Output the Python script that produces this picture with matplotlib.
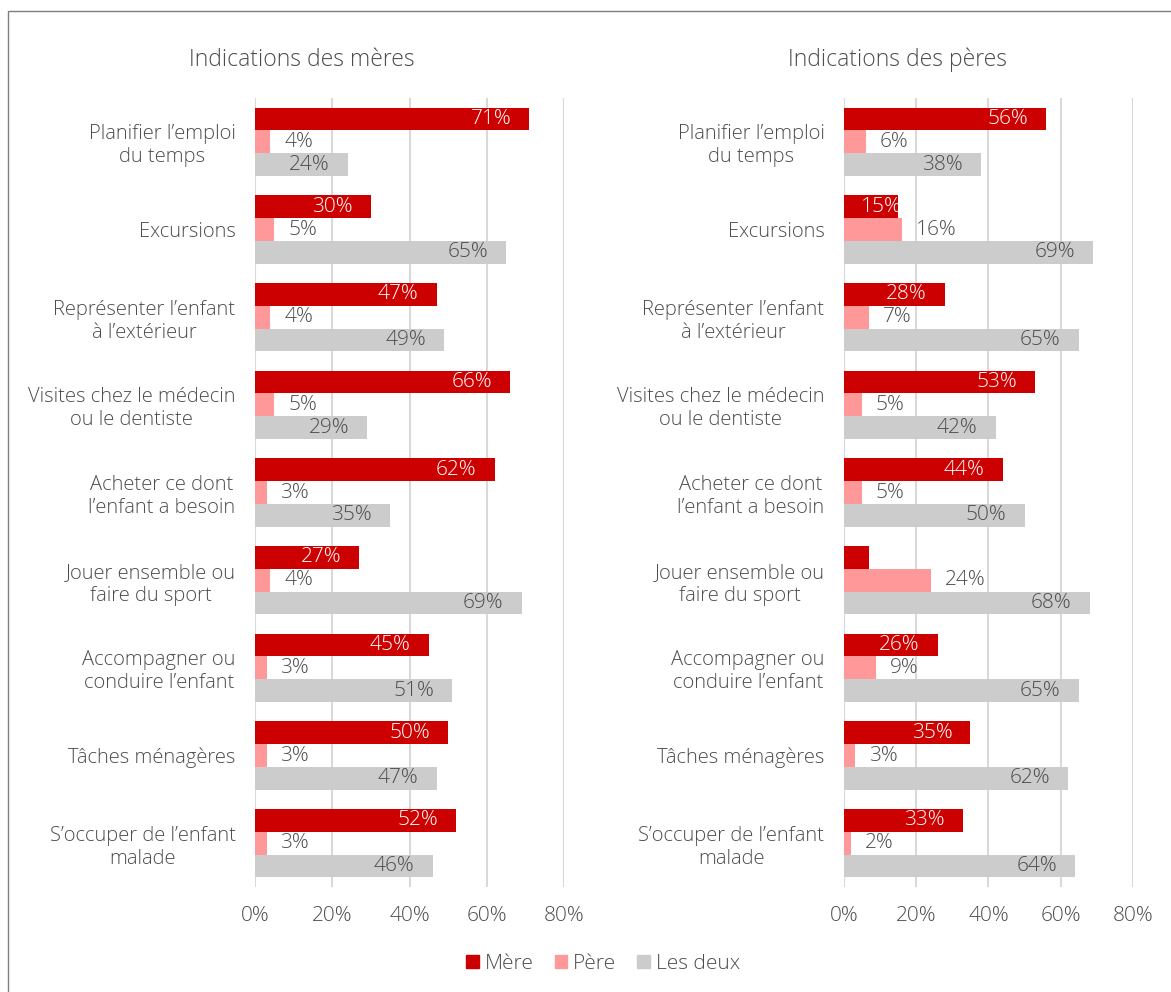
import numpy as np
import matplotlib.pyplot as plt
from matplotlib.patches import Rectangle, Patch

plt.rcParams['font.family'] = ['Open Sans', 'DejaVu Sans']
plt.rcParams['font.weight'] = 'light'

categories = [
    "Planifier l’emploi\ndu temps",
    "Excursions",
    "Représenter l’enfant\nà l’extérieur",
    "Visites chez le médecin\nou le dentiste",
    "Acheter ce dont\nl’enfant a besoin",
    "Jouer ensemble ou\nfaire du sport",
    "Accompagner ou\nconduire l’enfant",
    "Tâches ménagères",
    "S’occuper de l’enfant\nmalade",
]

series_names = ["Mère", "Père", "Les deux"]

# mothers' answers
meres_mere = [71, 30, 47, 66, 62, 27, 45, 50, 52]
meres_pere = [4, 5, 4, 5, 3, 4, 3, 3, 3]
meres_deux = [24, 65, 49, 29, 35, 69, 51, 47, 46]

# fathers' answers
peres_mere = [56, 15, 28, 53, 44, 7, 26, 35, 33]
peres_pere = [6, 16, 7, 5, 5, 24, 9, 3, 2]
peres_deux = [38, 69, 65, 42, 50, 68, 65, 62, 64]
peres_mere_labels = ["56%", "15%", "28%", "53%", "44%", "", "26%", "35%", "33%"]

x_ticks = [0, 20, 40, 60, 80]

colors = ["#CC0000", "#FF9999", "#CCCCCC"]
text_color = "#4D4D4D"
grid_color = "#D9D9D9"

label_size = 15
cat_size = 14.5


def draw_panel(ax, mere, pere, deux, mere_labels=None):
    y = np.arange(len(categories))
    h = 0.26
    if mere_labels is None:
        mere_labels = [f"{v}%" for v in mere]

    ax.barh(y - h, mere, height=h, color=colors[0], zorder=3)
    ax.barh(y, pere, height=h, color=colors[1], zorder=3)
    ax.barh(y + h, deux, height=h, color=colors[2], zorder=3)

    for i in range(len(categories)):
        # short bars: start the label near the axis instead of the bar end
        if mere[i] < 20:
            ax.annotate(mere_labels[i], (0, y[i] - h), xytext=(12, 0),
                        textcoords="offset points", ha="left", va="center",
                        color="white", fontsize=label_size, zorder=4)
        else:
            ax.annotate(mere_labels[i], (mere[i], y[i] - h), xytext=(-13, 0),
                        textcoords="offset points", ha="right", va="center",
                        color="white", fontsize=label_size, zorder=4)
        ax.annotate(f"{pere[i]}%", (pere[i], y[i]), xytext=(10, 0),
                    textcoords="offset points", ha="left", va="center",
                    color=text_color, fontsize=label_size, zorder=4)
        ax.annotate(f"{deux[i]}%", (deux[i], y[i] + h), xytext=(-13, 0),
                    textcoords="offset points", ha="right", va="center",
                    color=text_color, fontsize=label_size, zorder=4)

    ax.set_xlim(0, 80)
    ax.set_ylim(len(categories) - 0.5, -0.5)
    ax.set_xticks(x_ticks)
    ax.set_xticklabels([f"{t}%" for t in x_ticks])
    ax.set_yticks(y)
    ax.set_yticklabels(categories, multialignment="center")
    ax.tick_params(axis="y", length=0, pad=14, labelsize=cat_size, labelcolor=text_color)
    ax.tick_params(axis="x", length=0, pad=14, labelsize=label_size, labelcolor=text_color)
    ax.xaxis.grid(True, color=grid_color, linewidth=1.5, zorder=0)
    for s in ax.spines.values():
        s.set_visible(False)


fig = plt.figure(figsize=(11.71, 9.92), dpi=100)

ax1 = fig.add_axes([0.2178, 0.1058, 0.2639, 0.7954])
ax2 = fig.add_axes([0.7207, 0.1058, 0.2468, 0.7954])

draw_panel(ax1, meres_mere, meres_pere, meres_deux)
draw_panel(ax2, peres_mere, peres_pere, peres_deux, peres_mere_labels)

fig.text(302 / 1171, 1 - 60 / 992, "Indications des mères", ha="center",
         va="center", fontsize=16.5, color=text_color)
fig.text(897 / 1171, 1 - 60 / 992, "Indications des pères", ha="center",
         va="center", fontsize=16.5, color=text_color)

handles = [Patch(color=c) for c in colors]
fig.legend(handles, series_names, loc="center", bbox_to_anchor=(0.515, 1 - 964 / 992),
           ncol=3, frameon=False, fontsize=label_size, labelcolor=text_color,
           handlelength=0.6, handleheight=0.6, handletextpad=0.3, columnspacing=1.0)

# outer frame
fig.add_artist(Rectangle((8 / 1171, -0.05), 1.1, 1.05 - 11 / 992,
                         transform=fig.transFigure, fill=False,
                         edgecolor="#7F7F7F", linewidth=1.0, clip_on=False))

fig.savefig("out.png", dpi=100)
